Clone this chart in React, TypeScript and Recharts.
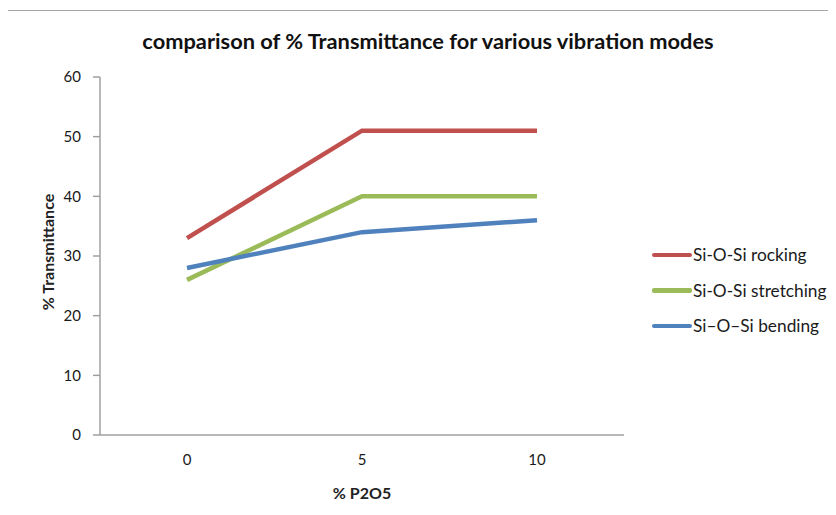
import React from "react";
import { LineChart, Line, XAxis, YAxis, Label } from "recharts";

const categories = ["0", "5", "10"];
const rocking = [33, 51, 51];
const stretching = [26, 40, 40];
const bending = [28, 34, 36];
const yTicks = [0, 10, 20, 30, 40, 50, 60];

const seriesDefs = [
  { key: "rocking", name: "Si-O-Si rocking", color: "#C0504D", values: rocking },
  { key: "stretching", name: "Si-O-Si stretching", color: "#9BBB59", values: stretching },
  { key: "bending", name: "Si\u2013O\u2013Si bending", color: "#4F81BD", values: bending },
];

const data = categories.map((c, i) => {
  const row: any = { cat: c };
  seriesDefs.forEach((s) => (row[s.key] = s.values[i]));
  return row;
});

const FONT = "Lato, 'Open Sans', sans-serif";

const YLabel = (props: any) => {
  const cy = 252;
  return (
    <text x={47} y={cy} transform={`rotate(-90, 47, ${cy})`} textAnchor="middle" dominantBaseline="central"
      fontFamily={FONT} fontSize={16} fontWeight={700} fill="#222">
      % Transmittance
    </text>
  );
};

const XLabel = (props: any) => {
  const vb = props.viewBox;
  const cx = vb.x + vb.width / 2;
  return (
    <text x={cx} y={492} textAnchor="middle" dominantBaseline="central"
      fontFamily={FONT} fontSize={16} fontWeight={700} fill="#222">
      % P2O5
    </text>
  );
};

export default function App() {
  return (
    <div style={{ margin: -8, width: 836, height: 515, position: "relative", overflow: "hidden", background: "#fff" }}>
      <div style={{ position: "absolute", left: 5, top: 10, width: 900, height: 700, borderLeft: "1px solid #a6a6a6", borderTop: "1px solid #a6a6a6" }} />
      <div style={{ position: "absolute", left: 0, width: 856, top: 27, textAlign: "center", fontFamily: FONT, fontWeight: 700, fontSize: 21.8, color: "#111" }}>
        comparison of % Transmittance for various vibration modes
      </div>
      <div style={{ position: "absolute", left: 0, top: 0 }}>
        <LineChart width={836} height={515} data={data} margin={{ top: 77, right: 212, left: 0, bottom: 0 }}>
          <XAxis dataKey="cat" height={80} padding={{ left: 87, right: 87 }} axisLine={{ stroke: "#a0a0a0", strokeWidth: 1.5 }}
            tickLine={false} tickSize={0} tickMargin={19}
            tick={{ fontFamily: FONT, fontSize: 15, fill: "#1a1a1a" }}>
            <Label content={<XLabel />} />
          </XAxis>
          <YAxis width={100} domain={[0, 60]} ticks={yTicks} interval={0} axisLine={{ stroke: "#a0a0a0", strokeWidth: 1.5 }}
            tickLine={{ stroke: "#a0a0a0", strokeWidth: 1.5 }} tickSize={7} tickMargin={12}
            tick={{ fontFamily: FONT, fontSize: 15, fill: "#1a1a1a" }}>
            <Label content={<YLabel />} />
          </YAxis>
          {seriesDefs.map((s) => (
            <Line key={s.key} dataKey={s.key} name={s.name} stroke={s.color} strokeWidth={4.5} dot={false}
              isAnimationActive={false} />
          ))}
        </LineChart>
      </div>
      <div style={{ position: "absolute", left: 652, top: 237, fontFamily: FONT, fontSize: 17.3, color: "#1a1a1a" }}>
        {seriesDefs.map((s) => (
          <div key={s.key} style={{ display: "flex", alignItems: "center", height: 35.5 }}>
            <div style={{ width: 40, height: 4.5, background: s.color, borderRadius: 2 }} />
            <span style={{ marginLeft: 1 }}>{s.name}</span>
          </div>
        ))}
      </div>
    </div>
  );
}
